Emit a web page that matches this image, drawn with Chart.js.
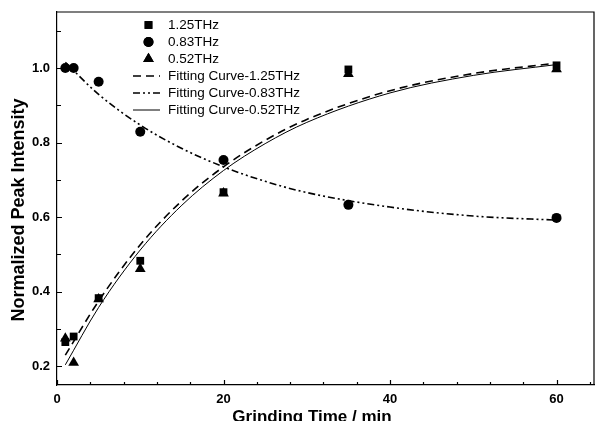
<!DOCTYPE html>
<html>
<head>
<meta charset="utf-8">
<script src="https://cdn.jsdelivr.net/npm/chart.js@4/dist/chart.umd.min.js"></script>
<style>
  html, body { margin: 0; padding: 0; background: #fff; overflow: hidden; }
  #peak-chart { display: block; }
</style>
</head>
<body>
<canvas id="peak-chart" width="595" height="421"></canvas>
<script>
// measured points
const times = [1, 2, 5, 10, 20, 35, 60];
const thz125 = [0.265, 0.28, 0.383, 0.483, 0.667, 0.996, 1.007];
const thz083 = [1.0, 1.0, 0.963, 0.829, 0.753, 0.633, 0.598];
const thz052 = [0.275, 0.21, 0.38, 0.461, 0.664, 0.984, 0.997];

// fitting curves
const fitTimes = [1, 5, 10, 15, 20, 25, 30, 40, 50, 60];
const fit125 = [0.23, 0.375, 0.526, 0.644, 0.735, 0.806, 0.862, 0.939, 0.985, 1.013];
const fit083 = [1.015, 0.929, 0.847, 0.784, 0.735, 0.696, 0.666, 0.627, 0.603, 0.592];
const fit052 = [0.204, 0.358, 0.512, 0.632, 0.725, 0.797, 0.854, 0.933, 0.98, 1.009];

// ticks
const xLabels = [0, 20, 40, 60];
const xMinor = [0, 4, 8, 12, 16, 20, 24, 28, 32, 36, 40, 44, 48, 52, 56, 60, 64];
const yLabels = [0.2, 0.4, 0.6, 0.8, 1.0];
const yMinor = [0.2, 0.3, 0.4, 0.5, 0.6, 0.7, 0.8, 0.9, 1.0, 1.1];

const xTitle = 'Grinding Time / min';
const yTitle = 'Normalized Peak Intensity';

const pts = (xs, ys) => xs.map((x, i) => ({x: x, y: ys[i]}));

const legendItems = [
  {text: '1.25THz', point: 'rect', r: 5.5},
  {text: '0.83THz', point: 'circle', r: 5},
  {text: '0.52THz', point: 'triangle', r: 6.2},
  {text: 'Fitting Curve-1.25THz', dash: [8, 5], width: 1.6},
  {text: 'Fitting Curve-0.83THz', dash: [7, 3, 2, 3, 2, 3], width: 1.6},
  {text: 'Fitting Curve-0.52THz', dash: [], width: 1}
];

// inward ticks, top frame, axis titles and the legend
const framePlugin = {
  id: 'frame',
  afterDraw(chart) {
    const ctx = chart.ctx;
    const area = chart.chartArea;
    const xs = chart.scales.x, ys = chart.scales.y;
    ctx.save();
    ctx.strokeStyle = '#000';
    ctx.lineWidth = 1.2;
    ctx.beginPath();
    ctx.moveTo(area.left, area.top);
    ctx.lineTo(area.right, area.top);
    ctx.lineTo(area.right, area.bottom);
    xMinor.forEach(v => {
      const px = Math.round(xs.getPixelForValue(v)) + 0.5;
      const len = xLabels.includes(v) ? 5 : 3;
      ctx.moveTo(px, area.bottom);
      ctx.lineTo(px, area.bottom - len);
    });
    yMinor.forEach(v => {
      const py = Math.round(ys.getPixelForValue(v)) + 0.5;
      const len = yLabels.some(l => Math.abs(l - v) < 1e-6) ? 5 : 4;
      ctx.moveTo(area.left, py);
      ctx.lineTo(area.left + len, py);
    });
    ctx.stroke();

    // axis titles
    ctx.fillStyle = '#000';
    ctx.textAlign = 'center';
    ctx.textBaseline = 'middle';
    ctx.font = 'bold 17px "Liberation Sans", Arial, sans-serif';
    ctx.fillText(xTitle, 312, 417.5);
    ctx.save();
    ctx.translate(19.5, 210);
    ctx.rotate(-Math.PI / 2);
    ctx.font = 'bold 18px "Liberation Sans", Arial, sans-serif';
    ctx.fillText(yTitle, 0, 0);
    ctx.restore();

    // legend
    ctx.font = '13.5px "Liberation Sans", Arial, sans-serif';
    ctx.textAlign = 'left';
    legendItems.forEach((item, i) => {
      const y = 25 + i * 17;
      if (item.point) {
        Chart.helpers.drawPoint(ctx, {pointStyle: item.point, radius: item.r, borderWidth: 0}, 148.5, y);
        ctx.fill();
      } else {
        ctx.save();
        ctx.lineWidth = item.width;
        ctx.setLineDash(item.dash);
        ctx.beginPath();
        ctx.moveTo(133, y);
        ctx.lineTo(160, y);
        ctx.stroke();
        ctx.restore();
      }
      ctx.fillText(item.text, 168, y);
    });
    ctx.restore();
  }
};

const ctx = document.getElementById('peak-chart');
const myChart = new Chart(ctx, {
  type: 'scatter',
  data: {
    datasets: [
      {
        label: 'Fitting Curve-1.25THz',
        data: pts(fitTimes, fit125),
        order: 5,
        showLine: true,
        pointRadius: 0,
        borderColor: '#000',
        borderWidth: 1.6,
        borderDash: [8, 5],
        cubicInterpolationMode: 'monotone',
      },
      {
        label: 'Fitting Curve-0.83THz',
        data: pts(fitTimes, fit083),
        order: 4,
        showLine: true,
        pointRadius: 0,
        borderColor: '#000',
        borderWidth: 1.6,
        borderDash: [7, 3, 2, 3, 2, 3],
        cubicInterpolationMode: 'monotone',
      },
      {
        label: 'Fitting Curve-0.52THz',
        data: pts(fitTimes, fit052),
        order: 3,
        showLine: true,
        pointRadius: 0,
        borderColor: '#000',
        borderWidth: 1,
        cubicInterpolationMode: 'monotone',
      },
      {
        label: '1.25THz',
        data: pts(times, thz125),
        order: 2,
        pointStyle: 'rect',
        pointRadius: 5.5,
        backgroundColor: '#000',
        borderWidth: 0,
      },
      {
        label: '0.83THz',
        data: pts(times, thz083),
        order: 1,
        pointStyle: 'circle',
        pointRadius: 5,
        backgroundColor: '#000',
        borderWidth: 0,
      },
      {
        label: '0.52THz',
        data: pts(times, thz052),
        order: 0,
        pointStyle: 'triangle',
        pointRadius: 6.2,
        backgroundColor: '#000',
        borderWidth: 0,
      },
    ],
  },
  options: {
    responsive: false,
    animation: false,
    clip: false,
    layout: {
      autoPadding: false,
      padding: {left: 0, right: 1, top: 12, bottom: 0},
    },
    scales: {
      x: {
        type: 'linear',
        min: 0,
        max: 64.5,
        afterFit: function(scale) {
          scale.height = 36;
          scale.paddingLeft = 0;
          scale.paddingRight = 0;
        },
        afterBuildTicks: function(scale) {
          scale.ticks = xLabels.map(v => ({value: v}));
        },
        grid: {display: false, drawTicks: false},
        border: {display: true, color: '#000', width: 1.2},
        ticks: {
          color: '#000',
          padding: 7,
          maxRotation: 0,
          font: {family: '"Liberation Sans", Arial', size: 13, weight: 'bold'},
          callback: function(value) { return value; }
        },
      },
      y: {
        type: 'linear',
        min: 0.15,
        max: 1.15,
        afterFit: function(scale) {
          scale.width = 57;
          scale.paddingTop = 0;
          scale.paddingBottom = 0;
        },
        afterBuildTicks: function(scale) {
          scale.ticks = yLabels.map(v => ({value: v}));
        },
        grid: {display: false, drawTicks: false},
        border: {display: true, color: '#000', width: 1.2},
        ticks: {
          color: '#000',
          padding: 7,
          font: {family: '"Liberation Sans", Arial', size: 13, weight: 'bold'},
          callback: function(value) { return value.toFixed(1); }
        },
      },
    },
    plugins: {
      legend: {display: false},
      tooltip: {enabled: false},
    },
  },
  plugins: [framePlugin],
});
</script>
</body>
</html>
